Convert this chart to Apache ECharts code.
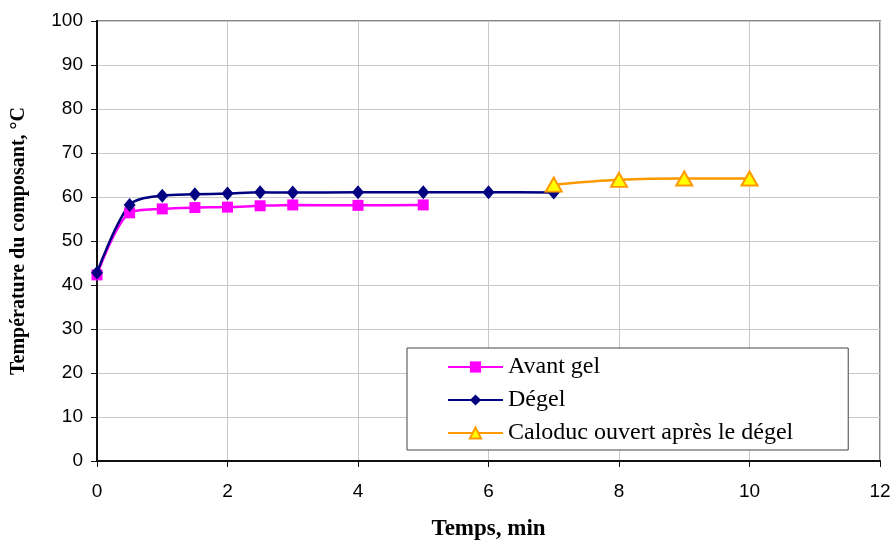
<!DOCTYPE html>
<html><head><meta charset="utf-8">
<script src="https://cdn.jsdelivr.net/npm/echarts@6/dist/echarts.min.js"></script>
<style>html,body{margin:0;padding:0;background:#fff}#c{width:892px;height:545px}</style>
</head><body><div id="c"></div>
<script>
const seriesNames = ['Avant gel', 'Dégel', 'Caloduc ouvert après le dégel'];
const avantGelX = [0, 0.5, 1, 1.5, 2, 2.5, 3, 4, 5];
const avantGelY = [42.3, 56.4, 57.3, 57.6, 57.7, 58.0, 58.2, 58.1, 58.2];
const degelX = [0, 0.5, 1, 1.5, 2, 2.5, 3, 4, 5, 6, 7];
const degelY = [42.8, 58.2, 60.3, 60.6, 60.8, 61.1, 61.0, 61.1, 61.1, 61.1, 61.0];
const caloducX = [7, 8, 9, 10];
const caloducY = [62.8, 63.9, 64.2, 64.2];
const xTicks = [0, 2, 4, 6, 8, 10, 12];
const yTicks = [0, 10, 20, 30, 40, 50, 60, 70, 80, 90, 100];

const zip = (xs, ys) => xs.map((x, i) => [x, ys[i]]);
const chart = echarts.init(document.getElementById('c'), null, {renderer: 'canvas'});
chart.setOption({
  animation: false,
  backgroundColor: '#fff',
  grid: {left: 97, right: 12, top: 21, bottom: 84, show: true, borderColor: '#888', borderWidth: 2,
         containLabel: false, outerBoundsMode: 'none'},
  legend: {
    orient: 'vertical', left: 407, top: 348,
    padding: [7, 55, 5, 40],
    borderColor: '#444', borderWidth: 1, backgroundColor: '#fff',
    itemWidth: 55, itemHeight: 14, itemGap: 9,
    textStyle: {fontFamily: 'Liberation Serif', fontSize: 24, color: '#000', padding: [0, 0, 0, 0]},
    data: seriesNames
  },
  xAxis: {
    type: 'value', min: 0, max: 12, interval: 2,
    name: 'Temps, min', nameLocation: 'middle', nameGap: 57,
    nameTextStyle: {fontFamily: 'Liberation Serif', fontWeight: 'bold', fontSize: 23, color: '#000'},
    axisLine: {show: true, onZero: false, lineStyle: {color: '#111', width: 2}},
    axisTick: {show: true, inside: false, length: 6, lineStyle: {color: '#111', width: 1}},
    axisLabel: {fontFamily: 'Liberation Sans', fontSize: 19, color: '#000', margin: 21,
      formatter: v => xTicks.includes(v) ? String(v) : ''},
    splitLine: {show: true, lineStyle: {color: '#c8c8c8', width: 1}}
  },
  yAxis: {
    type: 'value', min: 0, max: 100, interval: 10,
    name: 'Température du composant, °C', nameLocation: 'middle', nameGap: 68, nameRotate: 90,
    nameTextStyle: {fontFamily: 'Liberation Serif', fontWeight: 'bold', fontSize: 20, color: '#000'},
    axisLine: {show: true, onZero: false, lineStyle: {color: '#111', width: 2}},
    axisTick: {show: true, inside: false, length: 6, lineStyle: {color: '#111', width: 1}},
    axisLabel: {fontFamily: 'Liberation Sans', fontSize: 19, color: '#000', margin: 14,
      formatter: v => yTicks.includes(v) ? String(v) : ''},
    splitLine: {show: true, lineStyle: {color: '#c8c8c8', width: 1}}
  },
  series: [
    {name: seriesNames[0], type: 'line', data: zip(avantGelX, avantGelY), smooth: 0.3,
     symbol: 'rect', symbolSize: 11, color: '#ff00ff',
     lineStyle: {color: '#ff00ff', width: 2.5}, itemStyle: {color: '#ff00ff'}},
    {name: seriesNames[1], type: 'line', data: zip(degelX, degelY), smooth: 0.3,
     symbol: 'diamond', symbolSize: [12, 14], color: '#000080',
     lineStyle: {color: '#000080', width: 2.5}, itemStyle: {color: '#000080'}},
    {name: seriesNames[2], type: 'line', data: zip(caloducX, caloducY), smooth: 0.3,
     symbol: 'triangle', symbolSize: [16, 14], color: '#ff9900',
     lineStyle: {color: '#ff9900', width: 2.5},
     itemStyle: {color: '#ffff00', borderColor: '#ff9900', borderWidth: 2}}
  ]
});
</script></body></html>
